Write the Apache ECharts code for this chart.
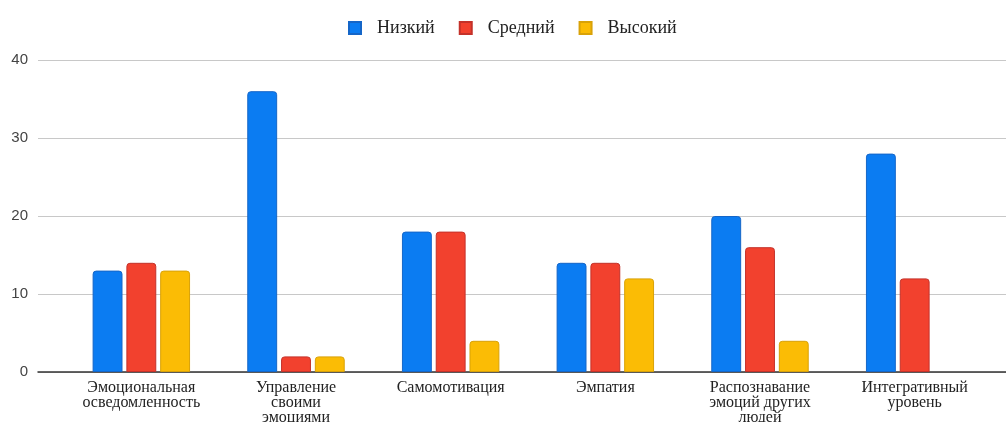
<!DOCTYPE html>
<html><head><meta charset="utf-8">
<script src="https://cdn.jsdelivr.net/npm/echarts@6/dist/echarts.min.js"></script>
<style>html,body{margin:0;padding:0;background:#fff}#c{width:1006px;height:422px}</style>
</head><body><div id="c"></div>
<script>
const categories = ["Эмоциональная\nосведомленность","Управление\nсвоими\nэмоциями","Самомотивация","Эмпатия","Распознавание\nэмоций других\nлюдей","Интегративный\nуровень"];
const seriesNames = ["Низкий","Средний","Высокий"];
const low = [13,36,18,14,20,28];
const mid = [14,2,18,14,16,12];
const high = [13,2,4,12,4,0];
const yTicks = [0,10,20,30,40];
const colors = ["#0b7cf2","#f2412e","#fbbc05"];
const borders = ["#1566c8","#c4322a","#d9a208"];

const chart = echarts.init(document.getElementById('c'));
const data = [low, mid, high];
chart.setOption({
  animation:false,
  legend:{
    top:19, left:348, padding:0, itemWidth:12, itemHeight:12, itemGap:24, icon:'rect',
    textStyle:{fontFamily:'Liberation Serif', fontSize:18, color:'#222', padding:[0,0,0,11]},
    data: seriesNames
  },
  grid:[
    {left:38, right:0, top:60, bottom:50, outerBoundsMode:'none', containLabel:false},
    {left:64, right:14, top:60, bottom:50, outerBoundsMode:'none', containLabel:false}
  ],
  xAxis:[
    {gridIndex:0, type:'category', data:['a'], axisLine:{show:true,lineStyle:{color:'#333',width:1.5}}, axisTick:{show:false}, axisLabel:{show:false}},
    {gridIndex:1, type:'category', data:categories, axisLine:{show:false}, axisTick:{show:false},
     axisLabel:{interval:0, margin:8, fontFamily:'Liberation Serif', fontSize:16, lineHeight:15, color:'#222'}}
  ],
  yAxis:[
    {gridIndex:0, type:'value', min:yTicks[0], max:yTicks[yTicks.length-1], interval:10,
     axisLine:{show:false}, axisTick:{show:false},
     axisLabel:{margin:10, fontFamily:'Liberation Sans', fontSize:15, color:'#444'},
     splitLine:{lineStyle:{color:'#c8c8c8', width:1}}},
    {gridIndex:1, type:'value', min:0, max:40, interval:10, show:false, splitLine:{show:false}}
  ],
  series: seriesNames.map((n,i)=>({
    name:n, type:'bar', xAxisIndex:1, yAxisIndex:1,
    data:data[i].map(v => v === 0 ? {value:v, itemStyle:{borderWidth:0, opacity:0}} : v),
    barCategoryGap:'37%', barGap:'13%',
    itemStyle:{color:colors[i], borderColor:borders[i], borderWidth:1, borderRadius:[3,3,0,0]}
  }))
});
</script></body></html>
